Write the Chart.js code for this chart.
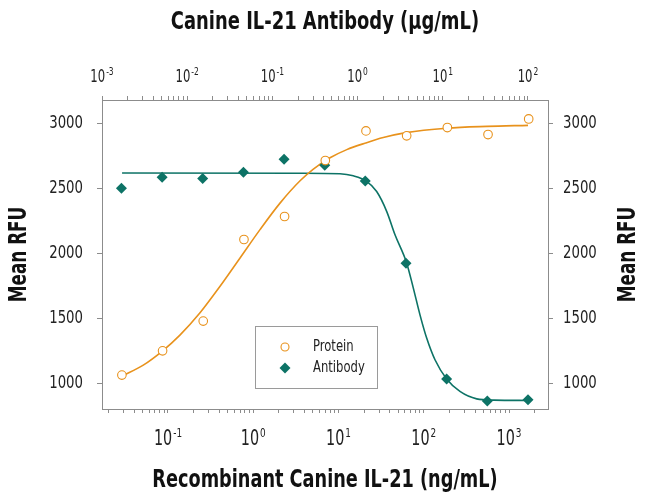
<!DOCTYPE html>
<html>
<head>
<meta charset="utf-8">
<script src="https://cdn.jsdelivr.net/npm/chart.js@4.4.1/dist/chart.umd.min.js"></script>
<style>
  html, body { margin: 0; padding: 0; background: #fff; }
  #wrap { width: 650px; height: 503px; }
</style>
</head>
<body>
<div id="wrap"><canvas id="rfu-chart" width="650" height="503"></canvas></div>
<script>
const FONT = "'DejaVu Sans Condensed', 'DejaVu Sans', sans-serif";
const ORANGE = "#E8921C";
const TEAL = "#0D7366";
const AXIS = "#8c8c8c";

// measured points (protein on bottom axis in ng/mL, antibody on top axis in ug/mL)
const proteinConc = [0.0288, 0.0864, 0.259, 0.778, 2.33, 7.0, 21, 63, 189, 567, 1700];
const proteinRFU = [1061, 1248, 1477, 2105, 2282, 2713, 2941, 2903, 2967, 2913, 3033];
const antibodyConc = [0.00169, 0.00508, 0.0152, 0.0457, 0.137, 0.412, 1.23, 3.70, 11.1, 33.3, 100];
const antibodyRFU = [2500, 2585, 2574, 2623, 2723, 2677, 2556, 1923, 1031, 862, 872];

// fitted curves
const proteinFitConc = [0.0291, 0.0513, 0.0866, 0.138, 0.2375, 0.408, 0.700, 1.20, 2.06, 3.54, 5.07, 7.95, 12.5, 20.8, 33.5, 62, 186, 552, 1670];
const proteinFitRFU = [1054, 1138, 1248, 1369, 1541, 1745, 1963, 2181, 2385, 2557, 2647, 2734, 2797, 2848, 2890, 2928, 2962, 2976, 2984];
const antibodyFitConc = [0.00172, 0.211, 0.621, 0.890, 1.255, 1.675, 2.20, 2.75, 3.77, 4.51, 5.40, 6.47, 8.10, 11.1, 15.9, 25.0, 40, 100];
const antibodyFitRFU = [2617, 2615, 2611, 2595, 2556, 2474, 2320, 2141, 1923, 1731, 1525, 1346, 1179, 1031, 935, 878, 868, 866];

// tick labels
const bottomExps = [-1, 0, 1, 2, 3];
const topExps = [-3, -2, -1, 0, 1, 2];
const yTicks = [1000, 1500, 2000, 2500, 3000];

const toXY = (xs, ys) => xs.map((x, i) => ({ x: x, y: ys[i] }));

function logTicks(scale) {
  const ticks = [];
  const lo = Math.floor(Math.log10(scale.min));
  const hi = Math.ceil(Math.log10(scale.max));
  for (let e = lo; e <= hi; e++) {
    for (let m = 1; m <= 9; m++) {
      const v = m * Math.pow(10, e);
      if (v >= scale.min * 0.9999 && v <= scale.max) ticks.push({ value: v, major: m === 1 });
    }
  }
  scale.ticks = ticks;
}

// text squeezed horizontally, the original uses a condensed face
function squeezed(ctx, text, x, y, font, sx, align) {
  ctx.save();
  ctx.font = font;
  const w = ctx.measureText(text).width * sx;
  let x0 = x;
  if (align === "center") x0 = x - w / 2;
  else if (align === "right") x0 = x - w;
  ctx.translate(x0, y);
  ctx.scale(sx, 1);
  ctx.textAlign = "left";
  ctx.fillText(text, 0, 0);
  ctx.restore();
  return w;
}

function drawPow(ctx, x, y, exp, size, supSize, raise, sx) {
  const sup = String(exp);
  ctx.font = size + "px " + FONT;
  const bw = ctx.measureText("10").width * sx;
  ctx.font = supSize + "px " + FONT;
  const sw = ctx.measureText(sup).width * sx;
  const x0 = x - (bw + sw + 1) / 2;
  ctx.textBaseline = "alphabetic";
  squeezed(ctx, "10", x0, y, size + "px " + FONT, sx, "left");
  squeezed(ctx, sup, x0 + bw + 1, y - raise, supSize + "px " + FONT, sx, "left");
}

const decorations = {
  id: "decorations",
  afterDraw(chart) {
    const ctx = chart.ctx;
    const xb = chart.scales.x, xt = chart.scales.x2;
    const yl = chart.scales.y, yr = chart.scales.y2;
    ctx.save();
    ctx.fillStyle = "#222";
    bottomExps.forEach(e => drawPow(ctx, xb.getPixelForValue(Math.pow(10, e)), 445, e, 21, 13, 8, 0.76));
    topExps.forEach(e => drawPow(ctx, xt.getPixelForValue(Math.pow(10, e)), 82, e, 17, 11, 7, 0.76));

    ctx.textBaseline = "middle";
    yl.ticks.forEach(t => squeezed(ctx, String(t.value), yl.right - 19, yl.getPixelForValue(t.value), "18px " + FONT, 0.82, "right"));
    yr.ticks.forEach(t => squeezed(ctx, String(t.value), yr.left + 15, yr.getPixelForValue(t.value), "18px " + FONT, 0.82, "left"));

    // axis titles
    ctx.fillStyle = "#111";
    const tf = "bold 24px " + FONT;
    squeezed(ctx, "Canine IL-21 Antibody (\u03BCg/mL)", 325, 23, tf, 0.83, "center");
    squeezed(ctx, "Recombinant Canine IL-21 (ng/mL)", 325, 481, tf, 0.82, "center");
    const midY = (chart.chartArea.top + chart.chartArea.bottom) / 2;
    [20, 629].forEach(px => {
      ctx.save();
      ctx.translate(px, midY);
      ctx.rotate(-Math.PI / 2);
      squeezed(ctx, "Mean RFU", 0, 0, tf, 0.78, "center");
      ctx.restore();
    });

    // legend box
    const ds = chart.data.datasets;
    ctx.strokeStyle = "#9a9a9a";
    ctx.lineWidth = 1;
    ctx.strokeRect(255.5, 326.5, 122, 62);
    [ds[0], ds[1]].forEach((d, i) => {
      const cy = 347 + i * 21;
      ctx.beginPath();
      if (d.pointStyle === "rectRot") {
        const r = 5.5;
        ctx.moveTo(285, cy - r); ctx.lineTo(285 + r, cy); ctx.lineTo(285, cy + r); ctx.lineTo(285 - r, cy);
        ctx.closePath();
        ctx.fillStyle = d.pointBackgroundColor;
        ctx.fill();
      } else {
        ctx.arc(285, cy, 4, 0, Math.PI * 2);
        ctx.strokeStyle = d.pointBorderColor;
        ctx.lineWidth = 1.1;
        ctx.stroke();
      }
      ctx.fillStyle = "#222";
      ctx.textBaseline = "middle";
      squeezed(ctx, d.label, 313, cy, "15px " + FONT, 0.86, "left");
    });
    ctx.restore();
  }
};

const logAxis = (pos, min, max, h) => ({
  type: "logarithmic",
  position: pos,
  min: min,
  max: max,
  afterBuildTicks: logTicks,
  afterFit: s => { s.height = h; },
  ticks: { display: false, autoSkip: false },
  grid: { drawOnChartArea: false, drawTicks: true, tickLength: 4, color: AXIS },
  border: { display: true, color: AXIS, width: 1 }
});

const yAxis = (pos, w) => ({
  type: "linear",
  position: pos,
  min: 800,
  max: 3179,
  afterBuildTicks: s => { s.ticks = yTicks.map(v => ({ value: v })); },
  afterFit: s => { s.width = w; },
  ticks: { display: false },
  grid: { drawOnChartArea: false, drawTicks: true, tickLength: 5, color: AXIS },
  border: { display: true, color: AXIS, width: 1 }
});

const canvas = document.querySelector("#rfu-chart");
const rfuChart = new Chart(canvas, {
  type: "scatter",
  data: {
    datasets: [
      {
        label: "Protein",
        data: toXY(proteinConc, proteinRFU),
        xAxisID: "x",
        yAxisID: "y",
        pointStyle: "circle",
        pointRadius: 4.3,
        pointBorderWidth: 1.1,
        pointBorderColor: ORANGE,
        pointBackgroundColor: "#ffffff",
        showLine: false
      },
      {
        label: "Antibody",
        data: toXY(antibodyConc, antibodyRFU),
        xAxisID: "x2",
        yAxisID: "y",
        pointStyle: "rectRot",
        pointRadius: 5.5,
        pointBorderWidth: 0,
        pointBorderColor: TEAL,
        pointBackgroundColor: TEAL,
        showLine: false
      },
      {
        label: "Protein fit",
        data: toXY(proteinFitConc, proteinFitRFU),
        xAxisID: "x",
        yAxisID: "y",
        showLine: true,
        pointRadius: 0,
        borderColor: ORANGE,
        borderWidth: 1.6,
        cubicInterpolationMode: "monotone"
      },
      {
        label: "Antibody fit",
        data: toXY(antibodyFitConc, antibodyFitRFU),
        xAxisID: "x2",
        yAxisID: "y",
        showLine: true,
        pointRadius: 0,
        borderColor: TEAL,
        borderWidth: 1.6,
        cubicInterpolationMode: "monotone"
      }
    ]
  },
  options: {
    responsive: false,
    animation: false,
    layout: { padding: 0 },
    plugins: { legend: { display: false }, tooltip: { enabled: false } },
    scales: {
      x: logAxis("bottom", Math.pow(10, -1.774), Math.pow(10, 3.457), 94),
      x2: logAxis("top", 1e-3, Math.pow(10, 2.235), 100),
      y: yAxis("left", 102),
      y2: yAxis("right", 102)
    }
  },
  plugins: [decorations]
});
</script>
</body>
</html>
